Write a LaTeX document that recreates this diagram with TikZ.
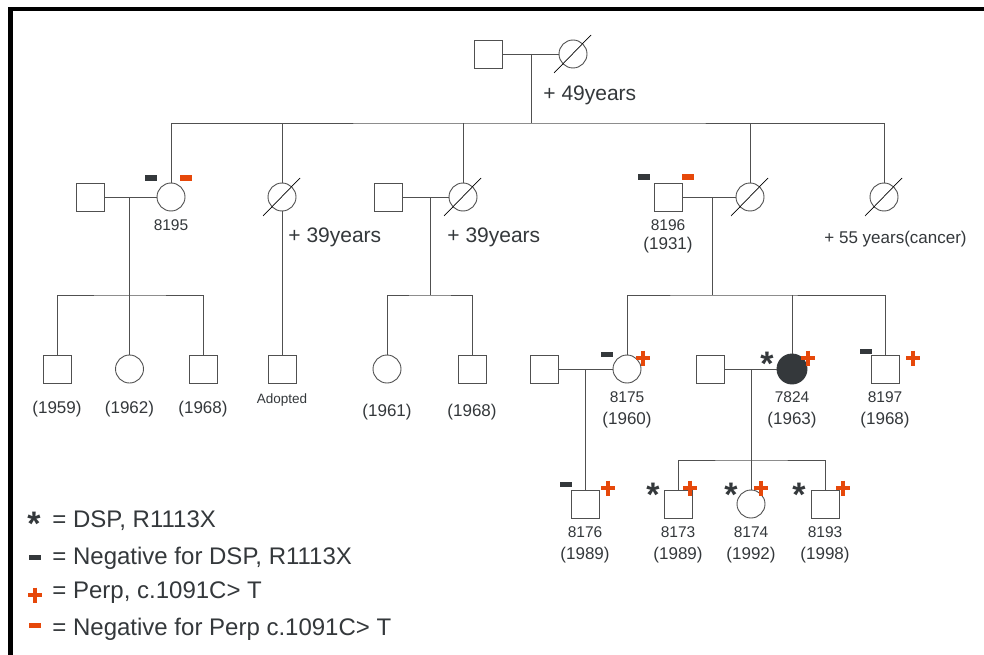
\documentclass[tikz,border=0pt]{standalone}
\usepackage{fontspec}
\setmainfont{Liberation Sans}
\definecolor{linegray}{RGB}{80,80,80}
\definecolor{inkgray}{RGB}{52,56,59}
\definecolor{perporange}{RGB}{230,72,10}
\tikzset{perpplus/.pic={\draw[perporange, line width=3.6pt] (-7,0) -- (7,0) (0,-7.5) -- (0,7.5);}}
\newcommand{\deceased}[1]{\draw[slash] ([shift={(-19,19)}]#1.center) -- ([shift={(18,-19)}]#1.center);}

\begin{document}
\begin{tikzpicture}[x=1pt, y=-1pt, line width=0.9pt, every node/.style={text=inkgray, inner sep=0pt},
    male/.style={rectangle, draw=linegray, fill=white, minimum size=28pt},
    female/.style={circle, draw=linegray, fill=white, minimum size=28pt},
    affected/.style={circle, draw=inkgray, fill=inkgray, minimum size=30pt},
    link/.style={draw=linegray},
    slash/.style={draw=black, line width=0.7pt},
    idlabel/.style={font=\fontsize{15.5}{18}\selectfont, anchor=base},
    yearlabel/.style={font=\fontsize{17}{20}\selectfont, anchor=base},
    note/.style={font=\fontsize{21}{25}\selectfont, anchor=base west},
    legendtext/.style={font=\fontsize{24}{28}\selectfont, anchor=base west},
    dspneg/.style={rectangle, fill=inkgray, minimum width=12pt, minimum height=5pt},
    perpneg/.style={dspneg, fill=perporange},
    dspstar/.style={font=\fontsize{34}{34}\selectfont\bfseries, anchor=north}]
    \useasboundingbox (0,0) rectangle (984,655);
    \fill[white] (0,0) rectangle (984,655);
    \draw[line width=4.5pt] (10.5,655) |- (984,9);

    % generation I
    \node[male] (gIm) at (488,54) {};
    \node[female] (gIf) at (573,54) {};
    \deceased{gIf}
    \node[note] (n49) at (543,101) {+ 49years};
    \coordinate (jI) at (531,54);
    \coordinate (sibI) at (531,123);
    \draw[link] (gIm) -- (gIf);
    \draw[link] (jI) -- (sibI);

    % generation II
    \node[male] (m1) at (90,197) {};
    \node[female] (f8195) at (171,197) {};
    \node[dspneg] (d8195) at (151,178) {};
    \node[perpneg] (p8195) at (186,178) {};
    \node[idlabel] (l8195) at (171,230) {8195};
    \node[female] (d2) at (282,197) {};
    \deceased{d2}
    \node[note] (n39a) at (288,242) {+ 39years};
    \node[male] (m3) at (388,197) {};
    \node[female] (f3) at (463,197) {};
    \deceased{f3}
    \node[note] (n39b) at (447,242) {+ 39years};
    \node[male] (m8196) at (668,197) {};
    \node[dspneg] (d8196) at (644,177) {};
    \node[perpneg] (p8196) at (688,177) {};
    \node[idlabel] (l8196) at (668,230) {8196};
    \node[yearlabel] (y8196) at (668,249) {(1931)};
    \node[female] (f4) at (750,197) {};
    \deceased{f4}
    \node[female] (d5) at (884,197) {};
    \deceased{d5}
    \node[note, font=\fontsize{17}{20}\selectfont] (n55) at (824,243) {+ 55 years(cancer)};
    \draw[link] (f8195.north) |- (sibI) -| (d5.north);
    \foreach \n in {d2, f3, f4} \draw[link] (\n.north) -- (\n.north |- sibI);

    % generation III, left
    \node[male] (c11) at (57,369) {};
    \node[female] (c12) at (129.5,369) {};
    \node[male] (c13) at (203,369) {};
    \node[yearlabel] (y11) at (57,413) {(1959)};
    \node[yearlabel] (y12) at (129.5,413) {(1962)};
    \node[yearlabel] (y13) at (203,413) {(1968)};
    \node[male] (adopt) at (282,369) {};
    \node[font=\fontsize{13.5}{16}\selectfont, anchor=base] (ladopt) at (282,403) {Adopted};
    \node[female] (c31) at (387,369) {};
    \node[male] (c32) at (472,369) {};
    \node[yearlabel] (y31) at (387,416) {(1961)};
    \node[yearlabel] (y32) at (472,416) {(1968)};
    \coordinate (j1) at (129.5,197);
    \coordinate (sib1) at (129.5,295);
    \coordinate (j3) at (430,197);
    \coordinate (sib3) at (430,295);
    \draw[link] (m1) -- (f8195);
    \draw[link] (j1) -- (sib1);
    \draw[link] (c11.north) |- (sib1) -| (c13.north);
    \draw[link] (c12.north) -- (sib1);
    \draw[link] (d2) -- (adopt);
    \draw[link] (m3) -- (f3);
    \draw[link] (j3) -- (sib3);
    \draw[link] (c31.north) |- (sib3) -| (c32.north);

    % generation III, right
    \node[male] (h5) at (544,369) {};
    \node[female] (f8175) at (627,369) {};
    \node[dspneg] (d8175) at (607,354) {};
    \pic at (643,358) {perpplus};
    \node[idlabel] (l8175) at (627,402) {8175};
    \node[yearlabel] (y8175) at (627,424) {(1960)};
    \node[male] (h6) at (710,369) {};
    \node[affected] (a7824) at (792,369) {};
    \node[dspstar] (s7824) at (767,351.5) {*};
    \pic at (808,358) {perpplus};
    \node[idlabel] (l7824) at (792,402) {7824};
    \node[yearlabel] (y7824) at (792,424) {(1963)};
    \node[male] (m8197) at (885,369) {};
    \node[dspneg] (d8197) at (866,351) {};
    \pic at (913,358) {perpplus};
    \node[idlabel] (l8197) at (885,402) {8197};
    \node[yearlabel] (y8197) at (885,424) {(1968)};
    \coordinate (j4) at (712,197);
    \coordinate (sib4) at (712,295);
    \draw[link] (m8196) -- (f4);
    \draw[link] (j4) -- (sib4);
    \draw[link] (f8175.north) |- (sib4) -| (m8197.north);
    \draw[link] (a7824.north) -- (a7824.north |- sib4);

    % generation IV
    \node[male] (m8176) at (585,504) {};
    \node[dspneg] (d8176) at (566,484) {};
    \pic at (608,488) {perpplus};
    \node[idlabel] (l8176) at (585,537) {8176};
    \node[yearlabel] (y8176) at (585,559) {(1989)};
    \node[male] (m8173) at (678,504) {};
    \node[dspstar] (s8173) at (653,482.5) {*};
    \pic at (690,488) {perpplus};
    \node[idlabel] (l8173) at (678,537) {8173};
    \node[yearlabel] (y8173) at (678,559) {(1989)};
    \node[female] (f8174) at (751,504) {};
    \node[dspstar] (s8174) at (731,482.5) {*};
    \pic at (761,488) {perpplus};
    \node[idlabel] (l8174) at (751,537) {8174};
    \node[yearlabel] (y8174) at (751,559) {(1992)};
    \node[male] (m8193) at (825,504) {};
    \node[dspstar] (s8193) at (799,482.5) {*};
    \pic at (843,488) {perpplus};
    \node[idlabel] (l8193) at (825,537) {8193};
    \node[yearlabel] (y8193) at (825,559) {(1998)};
    \coordinate (j6) at (751,369);
    \coordinate (sib6) at (751,460);
    \draw[link] (h5) -- (f8175);
    \draw[link] (m8176.north) -- (m8176.north |- f8175.center);
    \draw[link] (h6) -- (a7824);
    \draw[link] (j6) -- (sib6);
    \draw[link] (m8173.north) |- (sib6) -| (m8193.north);
    \draw[link] (f8174.north) -- (sib6);

    % legend
    \node[dspstar] (lgstar) at (34,511.5) {*};
    \node[legendtext] (lg1) at (52,527) {= DSP, R1113X};
    \node[dspneg] (lgdsp) at (35,557) {};
    \node[legendtext] (lg2) at (52,564) {= Negative for DSP, R1113X};
    \pic at (35,595) {perpplus};
    \node[legendtext] (lg3) at (52,598) {= Perp, c.1091C> T};
    \node[perpneg] (lgperp) at (35,625) {};
    \node[legendtext] (lg4) at (52,635) {= Negative for Perp c.1091C> T};
\end{tikzpicture}
\end{document}
